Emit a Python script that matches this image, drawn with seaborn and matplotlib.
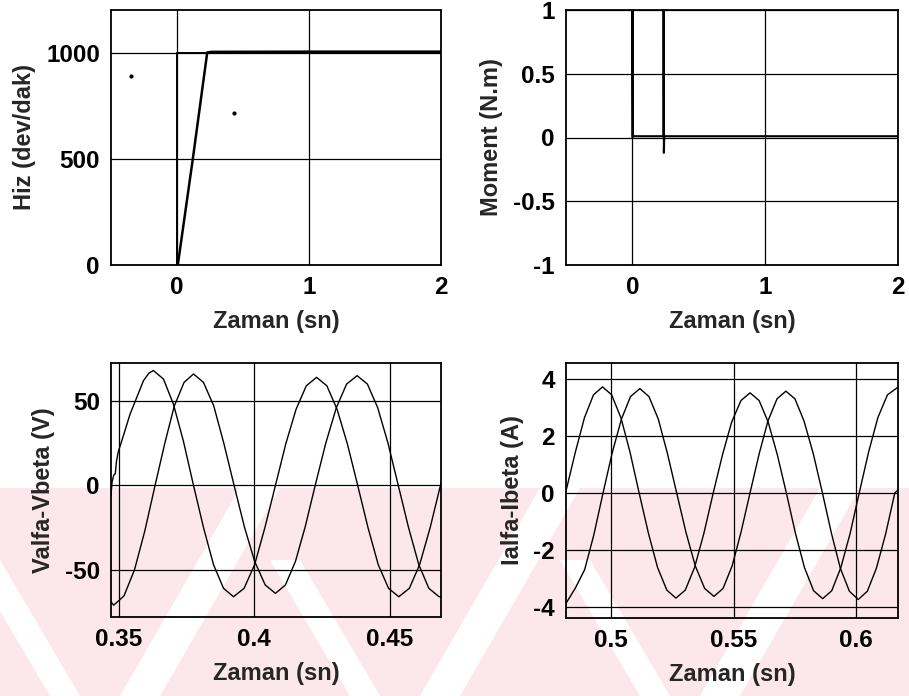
import numpy as np
import pandas as pd
import matplotlib
matplotlib.use("Agg")
import matplotlib.pyplot as plt
from matplotlib.patches import Polygon
import seaborn as sns

# =========================
# DATA
# =========================
# speed: reference step and measured ramp
hiz_ref_t = [0.0, 0.0, 2.0]
hiz_ref = [0, 1000, 1000]
hiz_t = [0.0, 0.006, 0.12, 0.229, 0.26, 1.0, 2.0]
hiz = [0, 0, 500, 1000, 1003, 1004, 1004]
# two stray scan dots
leke_t = [-0.351, 0.433]
leke_y = [889, 715]

# electromagnetic torque
moment_t = [0.0, 0.0, 0.004, 0.234, 0.235, 0.237, 0.240, 1.0, 2.0]
moment = [0.0, 1.3, 0.01, 0.01, 1.3, -0.12, 0.01, 0.01, 0.01]

# stator voltages
v_t_a = [0.3470, 0.3474, 0.3480, 0.3486, 0.3490, 0.3497, 0.3515, 0.3540, 0.3565,
         0.3590, 0.3610, 0.3627, 0.3664, 0.3701, 0.3738, 0.3775, 0.3812, 0.3849,
         0.3886, 0.3923, 0.3962, 0.4001, 0.4039, 0.4078, 0.4116, 0.4154, 0.4192,
         0.4230, 0.4268, 0.4306, 0.4344, 0.4382, 0.4420, 0.4458, 0.4496, 0.4534,
         0.4573, 0.4611, 0.4650, 0.4688, 0.4693]
v_alfa = [-6, 2, 6, 7, 14, 20, 29, 42, 52,
          62, 66.5, 68, 63, 48, 26, 0, -25, -47,
          -61, -66, -61, -47, -25, 0, 24.5, 45, 59,
          64, 59, 45, 24.5, 0, -25, -47, -61, -66,
          -61, -47, -25, 0, 3]
v_t_b = [0.3470, 0.3480, 0.3518, 0.3557, 0.3595, 0.3633, 0.3669, 0.3704, 0.3740,
         0.3775, 0.3812, 0.3850, 0.3887, 0.3925, 0.3963, 0.4001, 0.4040, 0.4078,
         0.4115, 0.4152, 0.4188, 0.4225, 0.4264, 0.4303, 0.4341, 0.4380, 0.4418,
         0.4456, 0.4494, 0.4532, 0.4570, 0.4608, 0.4645, 0.4683, 0.4693]
v_beta = [-69, -71, -65.5, -50, -27, 0, 25, 47, 61,
          66, 61, 47, 25, 0, -24.5, -45, -59, -64,
          -59, -45, -24.5, 0, 25, 46, 60, 65, 60,
          46, 25, 0, -25, -47, -61, -66, -66]

# stator currents
i_t_a = [0.4818, 0.4855, 0.4892, 0.4929, 0.4966, 0.5003, 0.5041, 0.5078, 0.5115,
         0.5153, 0.5190, 0.5228, 0.5265, 0.5303, 0.5341, 0.5379, 0.5417, 0.5455,
         0.5492, 0.5530, 0.5567, 0.5604, 0.5641, 0.5678, 0.5715, 0.5752, 0.5789,
         0.5826, 0.5863, 0.5900, 0.5937, 0.5975, 0.6012, 0.6050, 0.6088, 0.6127,
         0.6170]
i_alfa = [0.1, 1.43, 2.64, 3.45, 3.73, 3.45, 2.64, 1.43, 0,
          -1.42, -2.62, -3.42, -3.70, -3.42, -2.62, -1.42, 0, 1.35,
          2.49, 3.25, 3.52, 3.25, 2.49, 1.35, 0, -1.42, -2.63,
          -3.44, -3.72, -3.44, -2.63, -1.42, 0, 1.43, 2.65, 3.45,
          3.72]
i_t_b = [0.4818, 0.4855, 0.4893, 0.4930, 0.4968, 0.5005, 0.5043, 0.5080, 0.5118,
         0.5155, 0.5193, 0.5230, 0.5268, 0.5306, 0.5344, 0.5382, 0.5420, 0.5457,
         0.5494, 0.5530, 0.5567, 0.5604, 0.5640, 0.5677, 0.5713, 0.5750, 0.5787,
         0.5825, 0.5862, 0.5899, 0.5935, 0.5972, 0.6008, 0.6045, 0.6082, 0.6120,
         0.6157, 0.6170]
i_beta = [-3.87, -3.35, -2.70, -1.49, 0, 1.40, 2.60, 3.39, 3.67,
          3.39, 2.60, 1.40, 0, -1.39, -2.57, -3.36, -3.64, -3.36,
          -2.57, -1.39, 0, 1.37, 2.53, 3.31, 3.58, 3.31, 2.53,
          1.37, 0, -1.43, -2.65, -3.46, -3.75, -3.46, -2.65, -1.43,
          0, 0.1]

# =========================
# STYLE
# =========================
sns.set_theme(style="white")
plt.rcParams["font.family"] = ["Liberation Sans", "DejaVu Sans"]
plt.rcParams["font.weight"] = "bold"
plt.rcParams["axes.unicode_minus"] = False

fig = plt.figure(figsize=(9.09, 6.96), dpi=100)
fig.patch.set_facecolor("white")

# faint pink watermark of the scanned thesis page (figure pixels, top-left origin)
W, H = 909.0, 696.0
def fig_poly(pts, color):
    xy = [(x / W, 1 - y / H) for x, y in pts]
    fig.add_artist(Polygon(xy, closed=True, transform=fig.transFigure,
                           facecolor=color, edgecolor="none", zorder=-10))

pink = "#fce8ec"
fig_poly([(0, 488), (W, 488), (W, H), (0, H)], pink)
for xb in [120, 420, 700]:
    fig_poly([(xb, H), (xb + 40, H), (xb + 160, 488), (xb + 120, 488)], "white")
for xt in [-30, 270, 560]:
    fig_poly([(xt, 560), (xt + 30, 560), (xt + 110, H), (xt + 80, H)], "white")

# axes boxes [left, bottom, width, height] in figure fraction
boxes = [
    (111 / W, 1 - 265 / H, 330 / W, 255 / H),
    (566 / W, 1 - 265 / H, 332 / W, 255 / H),
    (111 / W, 1 - 617 / H, 330 / W, 254 / H),
    (566 / W, 1 - 618 / H, 332 / W, 255 / H),
]
axes = [fig.add_axes(b) for b in boxes]

lw = 1.0
kw = dict(sort=False, estimator=None, color="black", legend=False)

ax = axes[0]
sns.lineplot(x=hiz_ref_t, y=hiz_ref, ax=ax, linewidth=1.4, **kw)
sns.lineplot(x=hiz_t, y=hiz, ax=ax, linewidth=1.8, **kw)
ax.scatter(leke_t, leke_y, s=4, color="black", zorder=5)
ax.set_xlim(-0.5, 2)
ax.set_ylim(0, 1200)
ax.set_xticks([0, 1, 2])
ax.set_yticks([0, 500, 1000])
ax.set_ylabel("Hiz (dev/dak)")

ax = axes[1]
sns.lineplot(x=moment_t, y=moment, ax=ax, linewidth=1.5, **kw)
ax.set_xlim(-0.5, 2)
ax.set_ylim(-1, 1)
ax.set_xticks([0, 1, 2])
ax.set_yticks([-1, -0.5, 0, 0.5, 1])
ax.set_yticklabels(["-1", "-0.5", "0", "0.5", "1"])
ax.set_ylabel("Moment (N.m)")

ax = axes[2]
sns.lineplot(x=v_t_a, y=v_alfa, ax=ax, linewidth=lw, **kw)
sns.lineplot(x=v_t_b, y=v_beta, ax=ax, linewidth=lw, **kw)
ax.set_xlim(0.347, 0.469)
ax.set_ylim(-78, 72.5)
ax.set_xticks([0.35, 0.4, 0.45])
ax.set_xticklabels(["0.35", "0.4", "0.45"])
ax.set_yticks([-50, 0, 50])
ax.set_ylabel("Valfa-Vbeta (V)")

ax = axes[3]
sns.lineplot(x=i_t_a, y=i_alfa, ax=ax, linewidth=lw, **kw)
sns.lineplot(x=i_t_b, y=i_beta, ax=ax, linewidth=lw, **kw)
ax.set_xlim(0.4817, 0.617)
ax.set_ylim(-4.4, 4.57)
ax.set_xticks([0.5, 0.55, 0.6])
ax.set_xticklabels(["0.5", "0.55", "0.6"])
ax.set_yticks([-4, -2, 0, 2, 4])
ax.set_ylabel("Ialfa-Ibeta (A)")

for ax in axes:
    ax.set_facecolor("none")
    ax.grid(True, color="black", linewidth=0.9, linestyle="-")
    ax.set_axisbelow(True)
    for s in ax.spines.values():
        s.set_color("black")
        s.set_linewidth(1.3)
    ax.tick_params(length=0, labelsize=17.5, pad=8, colors="black")
    for lab in ax.get_xticklabels() + ax.get_yticklabels():
        lab.set_fontweight("bold")
    ax.set_xlabel("Zaman (sn)", fontsize=17, fontweight="bold", labelpad=8)
    ax.yaxis.label.set_fontsize(17)
    ax.yaxis.label.set_fontweight("bold")
    ax.yaxis.labelpad = 7

fig.savefig("out.png", dpi=100, facecolor="white")
